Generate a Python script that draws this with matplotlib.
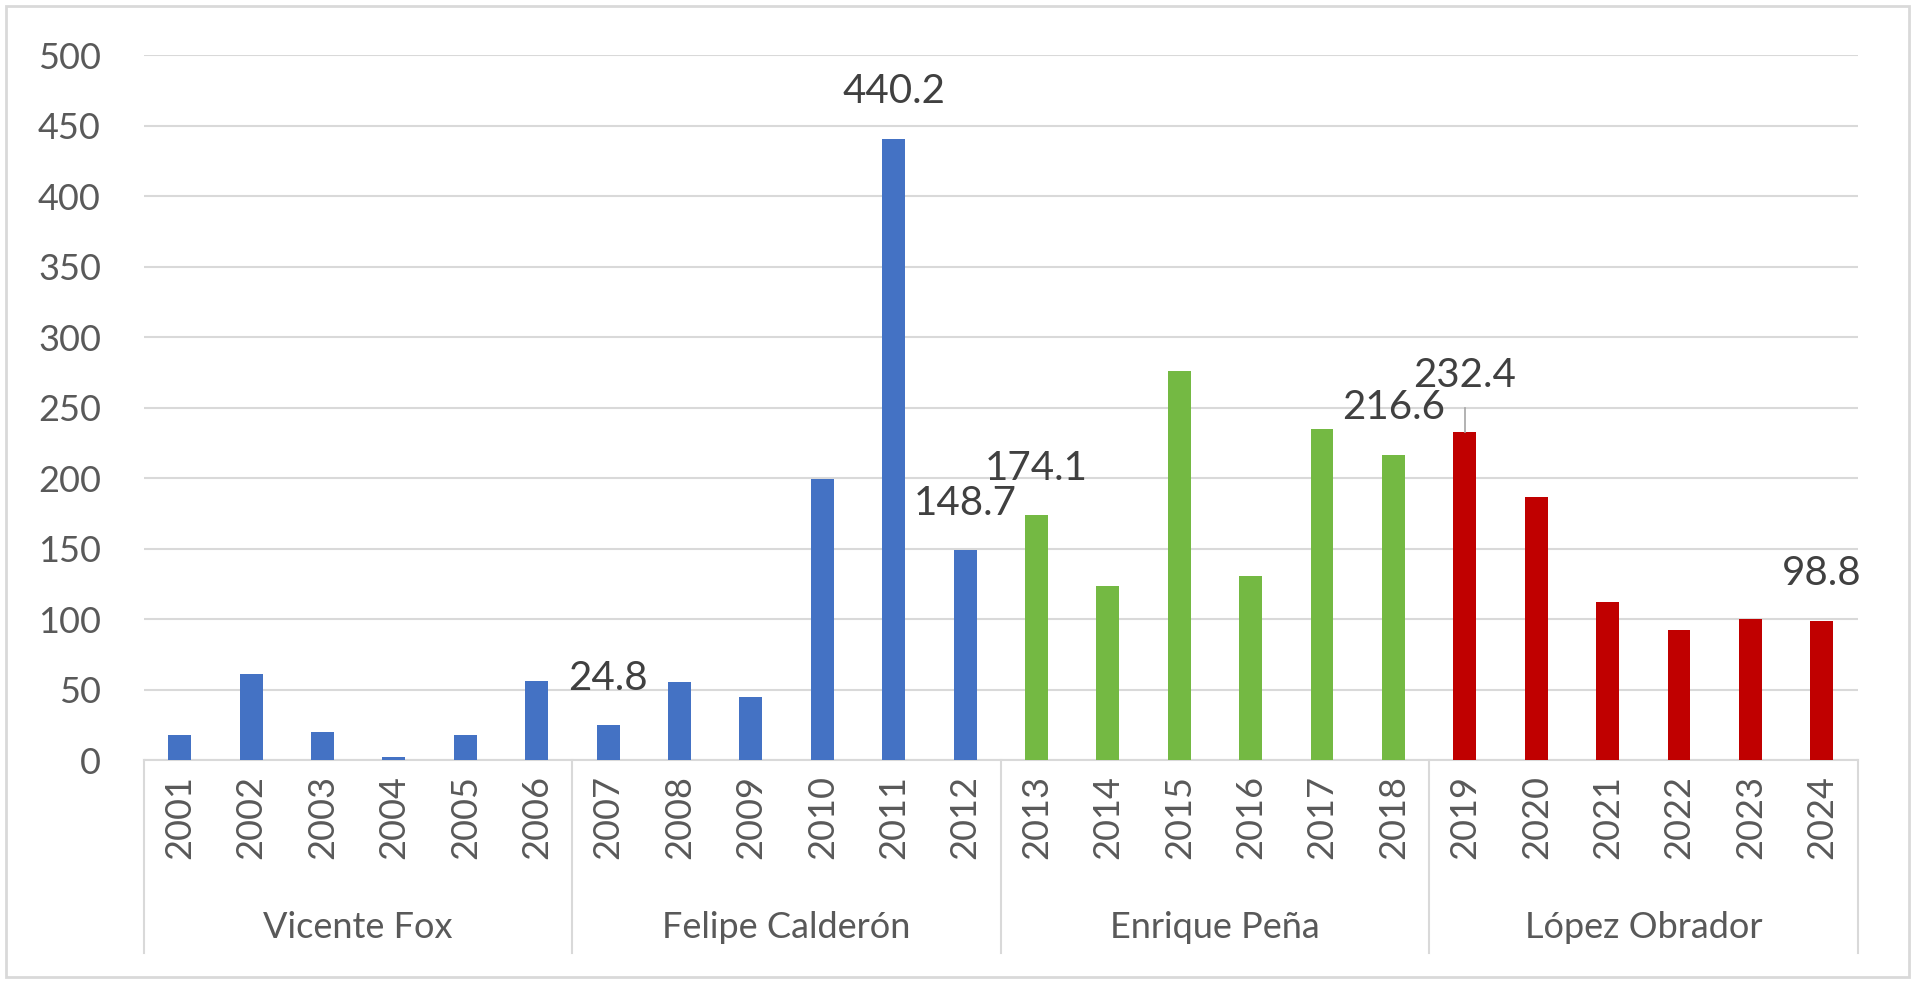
import matplotlib.pyplot as plt
from matplotlib.patches import Rectangle
import matplotlib.transforms as mtransforms

years = [str(y) for y in range(2001, 2025)]
values = [17.4, 61.1, 19.6, 1.9, 17.4, 56.3,
          24.8, 55.3, 44.4, 199.0, 440.2, 148.7,
          174.1, 123.3, 275.8, 130.2, 235.1, 216.6,
          232.4, 186.9, 112.4, 92.3, 100.3, 98.8]
presidents = ['Vicente Fox', 'Felipe Calderón', 'Enrique Peña', 'López Obrador']
colors_by_president = ['#4472C4', '#4472C4', '#74B943', '#C00000']

# labelled bars: year index -> height at which its label sits
label_years = [6, 10, 11, 12, 17, 18, 23]
label_y = [58, 474, 182, 207, 250, 273, 132]

plt.rcParams['font.family'] = ['Lato', 'DejaVu Sans']

fig = plt.figure(figsize=(19.15, 9.85), dpi=100)
ax = fig.add_axes([0.0752, 0.2284, 0.8948, 0.7157])

x = list(range(len(years)))
bar_colors = [colors_by_president[i // 6] for i in x]
ax.bar(x, values, 0.32, color=bar_colors, zorder=3)

ax.set_xlim(-0.5, len(years) - 0.5)
ax.set_ylim(0, 500)
ax.set_yticks(range(0, 501, 50))
ax.yaxis.grid(True, color='#D9D9D9', lw=1.5)
ax.set_axisbelow(True)

for s in ['top', 'right', 'left']:
    ax.spines[s].set_visible(False)
ax.spines['bottom'].set_color('#D9D9D9')
ax.spines['bottom'].set_linewidth(1.5)

ax.set_xticks(x)
ax.set_xticklabels(years, rotation=90, fontsize=26, color='#595959')
ax.tick_params(axis='x', length=0, pad=11)
ax.tick_params(axis='y', length=0, pad=31, labelsize=26, labelcolor='#595959')

# group dividers and president names
trans = mtransforms.blended_transform_factory(ax.transData, ax.transAxes)
for k in range(len(presidents) + 1):
    ax.plot([k * 6 - 0.5, k * 6 - 0.5], [0, -0.274], transform=trans,
            color='#D9D9D9', lw=1.5, clip_on=False)
for k, name in enumerate(presidents):
    ax.text(k * 6 + 2.5, -0.238, name, transform=trans, ha='center',
            va='center', fontsize=26, color='#595959')

# data labels
for i, ly in zip(label_years, label_y):
    ax.text(i, ly, f'{values[i]:.1f}', ha='center', va='center',
            fontsize=29, color='#404040', zorder=4)
ax.plot([18, 18], [values[18], 250], color='#A6A6A6', lw=1.2, zorder=4)

fig.patches.append(Rectangle((0.003, 0.008), 0.994, 0.986, transform=fig.transFigure,
                             fill=False, edgecolor='#D9D9D9', lw=2))

fig.savefig('out.png', dpi=100)
